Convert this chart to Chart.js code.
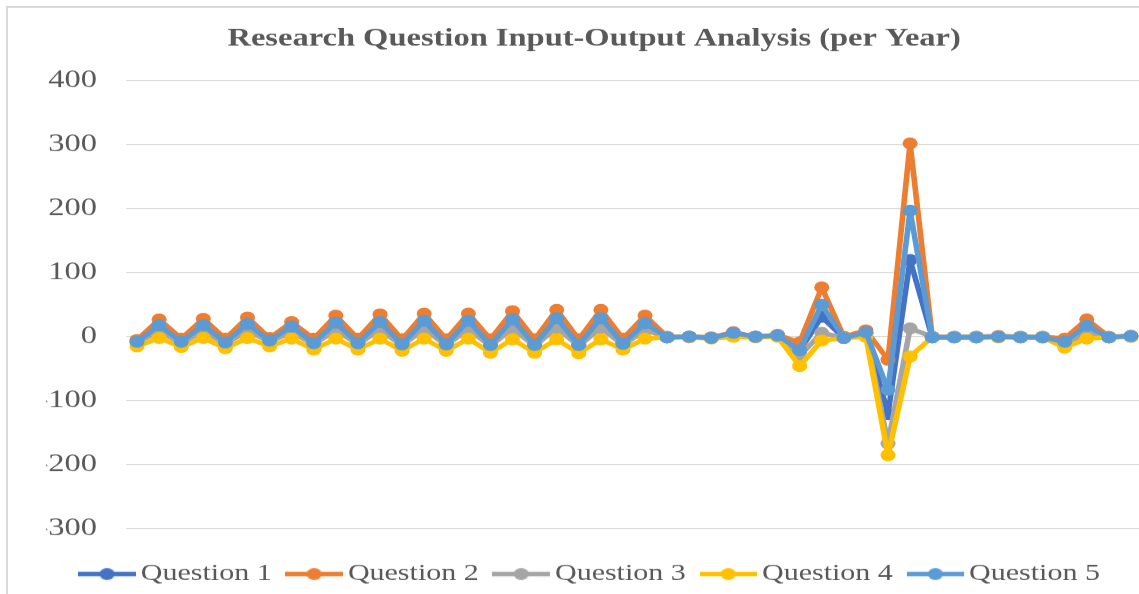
<!DOCTYPE html>
<html><head><meta charset="utf-8">
<script src="https://cdn.jsdelivr.net/npm/chart.js@4.4.1/dist/chart.umd.min.js"></script>
<style>
html,body{margin:0;padding:0;background:#fff;overflow:hidden;width:1139px;height:594px;}
#frame{position:absolute;left:6px;top:6px;width:1200px;height:700px;border:2px solid #d9d9d9;box-sizing:border-box;}
#wrap{position:absolute;left:0;top:0;width:920px;height:600px;transform:scaleX(1.25);transform-origin:0 0;}
</style></head><body>
<div id="frame"></div>
<div id="wrap"><canvas id="c" width="920" height="600" style="width:920px;height:600px"></canvas></div>
<script>
const categories = Array.from({length: 46}, (_, i) => String(i + 1));
const seriesNames = ['Question 1', 'Question 2', 'Question 3', 'Question 4', 'Question 5'];
const seriesColors = ['#4472C4', '#ED7D31', '#A5A5A5', '#FFC000', '#5B9BD5'];
const yTicks = [-300, -200, -100, 0, 100, 200, 300, 400];

const question1 = [-7, 14, -7, 14, -8, 16, -5, 12, -9, 18, -9, 19, -11, 21, -11, 21, -12, 23, -12, 25, -12, 25, -10, 17,
  -1, 0, -2, 5, 0, 2, -22, 31, -2, 6, -121, 120, -1, -1, -1, 0, -1, -1, -9, 15, -1, 1];
const question2 = [-5, 27, -3, 28, -3, 30, -2, 23, -3, 33, -3, 35, -4, 36, -4, 36, -4, 40, -4, 42, -4, 42, -3, 33,
  0, 0, -1, 7, 0, 3, -9, 77, 0, 10, -36, 302, 0, 0, 0, 1, 0, 0, -3, 27, 0, 1];
const question3 = [-9, 8, -10, 8, -11, 9, -8, 7, -12, 10, -12, 11, -14, 12, -14, 12, -15, 13, -15, 14, -15, 14, -13, 10,
  -1, 0, -2, 4, 0, 1, -30, 6, -2, 4, -167, 13, 0, 0, 0, 0, 0, 0, -12, 6, -1, 0];
const question4 = [-15, -2, -16, -2, -18, -2, -15, -3, -20, -3, -20, -3, -22, -3, -22, -3, -25, -4, -25, -4, -26, -4, -20, -3,
  -1, -1, -3, 0, -1, 0, -46, -6, -2, 0, -185, -31, -1, -1, -1, -1, -1, -1, -17, -3, -1, 0];
const question5 = [-8, 18, -8, 18, -9, 20, -6, 16, -10, 22, -10, 23, -12, 25, -12, 25, -13, 27, -13, 29, -13, 29, -11, 21,
  -1, 0, -2, 6, 0, 2, -21, 50, -2, 7, -83, 197, -1, -1, -1, 0, -1, -1, -8, 17, -1, 1];

const seriesData = [question1, question2, question3, question4, question5];

function makeIcon(color) {
  const cv = document.createElement('canvas');
  cv.width = 46; cv.height = 14;
  const g = cv.getContext('2d');
  g.strokeStyle = color; g.lineWidth = 4.5; g.lineCap = 'butt';
  g.beginPath(); g.moveTo(0, 7); g.lineTo(46, 7); g.stroke();
  g.fillStyle = color; g.beginPath(); g.arc(23, 7, 6, 0, Math.PI * 2); g.fill();
  return cv;
}
const legendIcons = seriesColors.map(makeIcon);

const datasets = seriesNames.map((name, i) => ({
  label: name,
  data: seriesData[i],
  borderColor: seriesColors[i],
  backgroundColor: seriesColors[i],
  pointBackgroundColor: seriesColors[i],
  pointBorderColor: seriesColors[i],
  pointBorderWidth: 0,
  pointRadius: 6,
  borderWidth: 4.5,
  tension: 0,
  borderJoinStyle: 'round',
  order: 5 - i
}));

new Chart(document.getElementById('c'), {
  type: 'line',
  data: { labels: categories, datasets },
  options: {
    responsive: false,
    animation: false,
    devicePixelRatio: 1.25,
    layout: { padding: { left: 37, right: 6.4, top: 0, bottom: 4 } },
    scales: {
      x: { display: false, offset: true },
      y: {
        min: -300, max: 400,
        afterBuildTicks: (s) => { s.ticks = yTicks.map(v => ({ value: v })); },
        afterFit: (s) => { s.width = 63.8; },
        grid: { color: '#d9d9d9', lineWidth: 1, drawTicks: false },
        border: { display: false },
        ticks: {
          padding: 23.2, color: '#595959',
          font: { family: 'Liberation Serif', size: 26 },
          callback: (v) => (v < 0 ? '-' + Math.abs(v) : String(v))
        }
      }
    },
    plugins: {
      title: {
        display: true,
        text: 'Research Question Input-Output Analysis (per Year)',
        color: '#595959',
        font: { family: 'Liberation Serif', size: 26, weight: 'bold', lineHeight: 1.2 },
        padding: { top: 23.4, bottom: 26.1 }
      },
      legend: {
        position: 'bottom',
        title: { display: true, text: ' ', font: { size: 14.3, lineHeight: 1 }, padding: 0 },
        labels: {
          usePointStyle: true,
          pointStyleWidth: 30,
          padding: 19,
          color: '#595959',
          font: { family: 'Liberation Serif', size: 24 },
          sort: (a, b) => a.datasetIndex - b.datasetIndex,
          generateLabels: (chart) => {
            const items = Chart.defaults.plugins.legend.labels.generateLabels(chart);
            items.forEach(it => { it.pointStyle = legendIcons[it.datasetIndex]; });
            return items;
          }
        }
      },
      tooltip: { enabled: false }
    }
  }
});
</script>
</body></html>
